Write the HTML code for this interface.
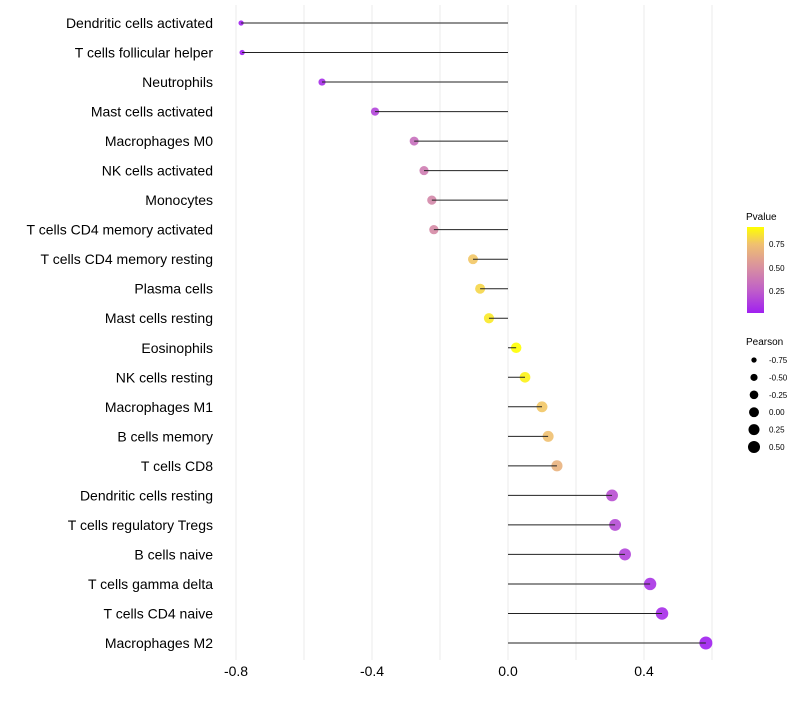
<!DOCTYPE html>
<html><head><meta charset="utf-8"><style>
body{margin:0;background:#fff;font-family:"Liberation Sans",sans-serif}
</style></head><body>
<svg id="chart" width="800" height="700" xmlns="http://www.w3.org/2000/svg" font-family="Liberation Sans, sans-serif">
<defs><linearGradient id="pg" x1="0" y1="1" x2="0" y2="0">
<stop offset="0" stop-color="#a020f0"/><stop offset="0.27" stop-color="#c060c8"/><stop offset="0.53" stop-color="#d890a0"/><stop offset="0.8" stop-color="#f0c070"/><stop offset="1" stop-color="#ffff00"/></linearGradient></defs>
<g id="grid"></g><g id="dots"></g><g id="marks"></g><g id="labels"></g>
<g>
<text x="746" y="220" font-size="10">Pvalue</text>
<rect x="747" y="227" width="17" height="86" fill="url(#pg)"/>
<text x="769" y="247" font-size="8">0.75</text>
<text x="769" y="271" font-size="8">0.50</text>
<text x="769" y="294" font-size="8">0.25</text>
</g>
<g id="sizeleg">
<text x="746" y="345" font-size="10">Pearson</text>
</g>
</svg>
<script>
const categories=["Dendritic cells activated","T cells follicular helper","Neutrophils","Mast cells activated","Macrophages M0","NK cells activated","Monocytes","T cells CD4 memory activated","T cells CD4 memory resting","Plasma cells","Mast cells resting","Eosinophils","NK cells resting","Macrophages M1","B cells memory","T cells CD8","Dendritic cells resting","T cells regulatory  Tregs ","B cells naive","T cells gamma delta","T cells CD4 naive","Macrophages M2"];
const pearson=[-0.785,-0.782,-0.547,-0.391,-0.276,-0.247,-0.224,-0.218,-0.103,-0.082,-0.056,0.024,0.05,0.1,0.118,0.144,0.306,0.315,0.344,0.418,0.453,0.582];
const pvalue=[0.0,0.0,0.05,0.15,0.35,0.42,0.48,0.5,0.82,0.87,0.93,1.0,0.96,0.82,0.8,0.72,0.2,0.18,0.15,0.08,0.05,0.0];
const xTicks=[-0.8,-0.4,0.0,0.4];
const xGrid=[-0.8,-0.6,-0.4,-0.2,0,0.2,0.4,0.6];
const sizeLegend=[-0.75,-0.5,-0.25,0,0.25,0.5];
const ns="http://www.w3.org/2000/svg";
const x=v=>508+v*340;
const y=i=>23+i*(620/(categories.length-1));
const r=v=>Math.sqrt(Math.max(2,27.2+25.9*v));
function col(p){const s=[[0,[160,32,240]],[0.27,[192,96,200]],[0.53,[216,144,160]],[0.8,[240,192,112]],[1,[255,255,0]]];
for(let k=1;k<s.length;k++){if(p<=s[k][0]){const t=(p-s[k-1][0])/(s[k][0]-s[k-1][0]);const c=s[k-1][1].map((a,j)=>Math.round(a+(s[k][1][j]-a)*t));return`rgb(${c})`;}}return"rgb(255,255,0)";}
function mk(t,a,p){const e=document.createElementNS(ns,t);for(const k in a)e.setAttribute(k,a[k]);p.appendChild(e);return e;}
const G=document.getElementById("grid"),M=document.getElementById("marks"),D=document.getElementById("dots"),L=document.getElementById("labels");
xGrid.forEach(v=>{const e=mk("line",{x1:x(v),x2:x(v),y1:5,y2:660,stroke:"#ebebeb","stroke-width":1},G);

});
xTicks.forEach(v=>{const e=mk("text",{x:x(v),y:676,"font-size":14,"text-anchor":"middle",fill:"#000"},L);e.textContent=v.toFixed(1);

});
categories.forEach((c,i)=>{
const t=mk("text",{x:213,y:y(i)+5,"font-size":14,"text-anchor":"end",fill:"#000","xml:space":"preserve"},L);t.textContent=c;


const d=mk("circle",{cx:x(pearson[i]),cy:y(i),r:r(pearson[i]),fill:col(pvalue[i]),"fill-opacity":0.9},D);


const s=mk("line",{x1:x(0),x2:x(pearson[i]),y1:y(i),y2:y(i),stroke:"#222","stroke-width":1},M);


});
const SL=document.getElementById("sizeleg");
sizeLegend.forEach((v,k)=>{const yy=360+k*17.4;
const d=mk("circle",{cx:754,cy:yy,r:r(v)*0.95,fill:"#000"},SL);


const t=mk("text",{x:769,y:yy+3,"font-size":8},SL);t.textContent=v.toFixed(2);

});
</script>
</body></html>
